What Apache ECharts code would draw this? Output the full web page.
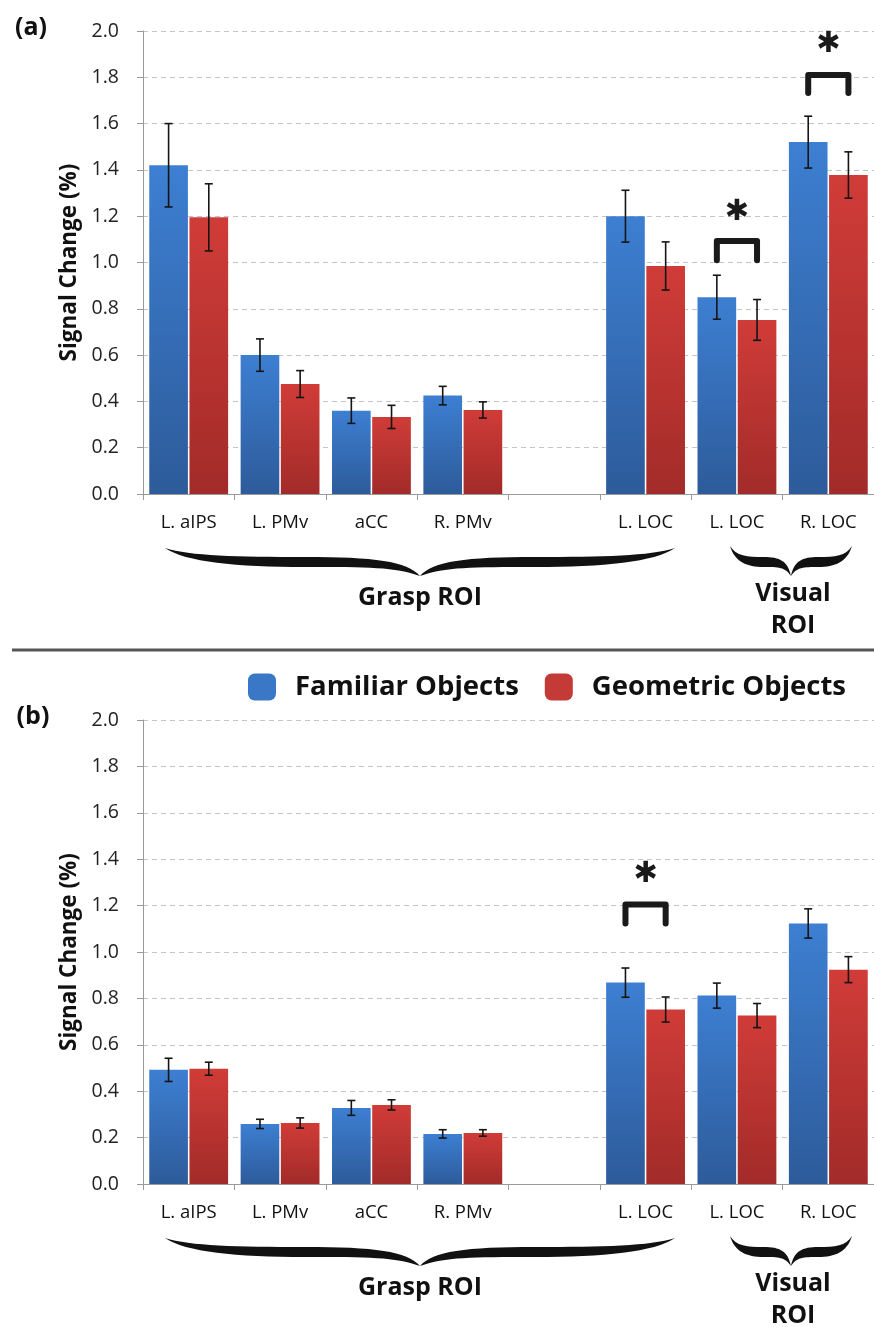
<!DOCTYPE html>
<html><head><meta charset="utf-8">
<script src="https://cdn.jsdelivr.net/npm/echarts@6/dist/echarts.min.js"></script>
<style>html,body{margin:0;padding:0;background:#fff}#c{width:874px;height:1327px}</style>
</head><body><div id="c"></div>
<script>
// ---------- data ----------
const categories = ['L. aIPS', 'L. PMv', 'aCC', 'R. PMv', '', 'L. LOC', 'L. LOC', 'R. LOC'];
const seriesNames = ['Familiar Objects', 'Geometric Objects'];
const yMin = 0, yMax = 2.0, yStep = 0.2;

// panel (a)
const aFamiliar    = [1.42, 0.60, 0.36, 0.425, null, 1.20, 0.85, 1.52];
const aFamiliarErr = [0.18, 0.07, 0.055, 0.04, null, 0.112, 0.095, 0.112];
const aGeometric    = [1.195, 0.475, 0.333, 0.363, null, 0.985, 0.752, 1.378];
const aGeometricErr = [0.145, 0.058, 0.05, 0.035, null, 0.104, 0.088, 0.10];
// significance brackets (a): category, leg bottom, bar top, asterisk level
const aSigCat  = [6, 7];
const aSigBase = [1.01, 1.732];
const aSigTop  = [1.093, 1.81];
const aSigStar = [1.218, 1.94];

// panel (b)
const bFamiliar    = [0.492, 0.259, 0.328, 0.216, null, 0.868, 0.812, 1.123];
const bFamiliarErr = [0.05, 0.02, 0.032, 0.018, null, 0.063, 0.054, 0.063];
const bGeometric    = [0.497, 0.263, 0.341, 0.22, null, 0.752, 0.726, 0.924];
const bGeometricErr = [0.028, 0.022, 0.022, 0.014, null, 0.054, 0.052, 0.056];
const bSigCat  = [5];
const bSigBase = [1.123];
const bSigTop  = [1.205];
const bSigStar = [1.335];

// ---------- styling / layout ----------
const CAT_GAP = 0.137, BAR_GAP = 0.04;
const FONT = '"Open Sans", "Noto Sans", sans-serif';
const blueGrad = {type: 'linear', x: 0, y: 0, x2: 0, y2: 1, colorStops: [
  {offset: 0, color: '#3d7fd2'}, {offset: 1, color: '#2d5b9a'}]};
const redGrad = {type: 'linear', x: 0, y: 0, x2: 0, y2: 1, colorStops: [
  {offset: 0, color: '#d03c38'}, {offset: 1, color: '#a22b29'}]};

function barOffsets(band) {
  const used = band * (1 - CAT_GAP);
  const w = used / (2 + BAR_GAP);
  const g = w * BAR_GAP;
  return [-(g / 2 + w / 2), g / 2 + w / 2];
}

function errData(vals, errs) {
  const out = [];
  vals.forEach((v, i) => { if (v != null) out.push([i, v, errs[i]]); });
  return out;
}
function barData(vals) { return vals.map(v => v == null ? '-' : v); }

function errSeries(vals, errs, which, axis) {
  return {
    type: 'custom', xAxisIndex: axis, yAxisIndex: axis, z: 5, silent: true,
    data: errData(vals, errs),
    renderItem: function (params, api) {
      const i = api.value(0), v = api.value(1), e = api.value(2);
      const band = api.size([1, 0])[0];
      const off = barOffsets(band)[which];
      const top = api.coord([i, v + e]);
      const bot = api.coord([i, v - e]);
      const x = top[0] + off;
      const st = {stroke: '#151515', lineWidth: 1.6};
      const cw = 4;
      return {type: 'group', children: [
        {type: 'line', shape: {x1: x, y1: top[1], x2: x, y2: bot[1]}, style: st},
        {type: 'line', shape: {x1: x - cw, y1: top[1], x2: x + cw, y2: top[1]}, style: st},
        {type: 'line', shape: {x1: x - cw, y1: bot[1], x2: x + cw, y2: bot[1]}, style: st}
      ]};
    }
  };
}

function sigSeries(cats, base, top, star, axis) {
  return {
    type: 'custom', xAxisIndex: axis, yAxisIndex: axis, z: 6, silent: true,
    data: cats.map((c, k) => [c, base[k], top[k], star[k]]),
    renderItem: function (params, api) {
      const i = api.value(0);
      const band = api.size([1, 0])[0];
      const offs = barOffsets(band);
      const pb = api.coord([i, api.value(1)]);
      const pt = api.coord([i, api.value(2)]);
      const ps = api.coord([i, api.value(3)]);
      const xl = pt[0] + offs[0], xr = pt[0] + offs[1];
      return {type: 'group', children: [
        {type: 'polyline', shape: {points: [[xl, pb[1]], [xl, pt[1]], [xr, pt[1]], [xr, pb[1]]]},
         style: {stroke: '#1a1a1a', lineWidth: 6, fill: null, lineJoin: 'round', lineCap: 'round'}},
        {type: 'text', style: {text: '✱', x: (xl + xr) / 2, y: ps[1], align: 'center', verticalAlign: 'middle',
          fontSize: 29, fontFamily: '"DejaVu Sans"', fill: '#1a1a1a'}}
      ]};
    }
  };
}

function barSeries(name, vals, grad, axis) {
  return {
    name: name, type: 'bar', xAxisIndex: axis, yAxisIndex: axis,
    data: barData(vals), barCategoryGap: (CAT_GAP * 100) + '%', barGap: (BAR_GAP * 100) + '%',
    itemStyle: {color: grad}, silent: true
  };
}

function makeX(gridIndex) {
  return {
    type: 'category', gridIndex: gridIndex, data: categories,
    axisLine: {lineStyle: {color: '#9a9a9a', width: 1}},
    axisTick: {show: true, length: 6, lineStyle: {color: '#9a9a9a'}},
    axisLabel: {color: '#111', fontSize: 18.5, fontFamily: FONT, margin: 19, interval: 0},
    splitLine: {show: false}
  };
}
function makeY(gridIndex) {
  return {
    type: 'value', gridIndex: gridIndex, min: yMin, max: yMax, interval: yStep,
    name: 'Signal Change (%)', nameLocation: 'middle', nameRotate: 90, nameGap: 60,
    nameTextStyle: {color: '#111', fontSize: 22.5, fontWeight: 'bold', fontFamily: FONT},
    axisLine: {show: true, lineStyle: {color: '#9a9a9a', width: 1}},
    axisTick: {show: true, length: 6, lineStyle: {color: '#9a9a9a'}},
    axisLabel: {color: '#222', fontSize: 19.5, fontFamily: FONT, margin: 24, formatter: v => v.toFixed(1)},
    splitLine: {show: true, lineStyle: {color: '#c4c4c4', type: [5, 4], width: 1}}
  };
}

function bracePath(x1, x2, y0, d, yb, t) {
  const xc = (x1 + x2) / 2, W = xc - x1;
  const ybt = y0 + yb, ybb = ybt + t, yp = y0 + d;
  const L = `M${x1},${y0} C${x1 + 0.1 * W},${ybt - 1} ${x1 + 0.28 * W},${ybt} ${x1 + 0.55 * W},${ybt} ` +
    `C${x1 + 0.82 * W},${ybt} ${xc - 0.05 * W},${ybt + 0.4 * t} ${xc},${yp} ` +
    `C${xc - 0.1 * W},${ybb} ${x1 + 0.8 * W},${ybb} ${x1 + 0.55 * W},${ybb} ` +
    `C${x1 + 0.28 * W},${ybb} ${x1 + 0.08 * W},${ybb - 0.5 * t} ${x1},${y0} Z`;
  const R = `M${x2},${y0} C${x2 - 0.1 * W},${ybt - 1} ${x2 - 0.28 * W},${ybt} ${x2 - 0.55 * W},${ybt} ` +
    `C${x2 - 0.82 * W},${ybt} ${xc + 0.05 * W},${ybt + 0.4 * t} ${xc},${yp} ` +
    `C${xc + 0.1 * W},${ybb} ${x2 - 0.8 * W},${ybb} ${x2 - 0.55 * W},${ybb} ` +
    `C${x2 - 0.28 * W},${ybb} ${x2 - 0.08 * W},${ybb - 0.5 * t} ${x2},${y0} Z`;
  return L + ' ' + R;
}

// braces drawn through a custom series without coordinate system
const braceSeries = {
  type: 'custom', coordinateSystem: 'none', silent: true, z: 4,
  data: [0],
  renderItem: function () {
    const children = [];
    [0, 690].forEach(dy => {
      children.push({type: 'path', shape: {pathData: bracePath(165, 675, 548 + dy, 28, 9, 10)}, style: {fill: '#111'}});
      children.push({type: 'path', shape: {pathData: bracePath(730, 852, 546 + dy, 30, 11, 10)}, style: {fill: '#111'}});
    });
    return {type: 'group', children: children};
  }
};

function panelTexts(dy) {
  const ts = (txt, x, y, size) => ({type: 'text', x: x, y: y,
    style: {text: txt, align: 'center', verticalAlign: 'middle', fontSize: size, fontWeight: 'bold',
      fontFamily: FONT, fill: '#111'}});
  return [
    ts('Grasp ROI', 420, 598 + dy, 25),
    ts('Visual', 793, 594 + dy, 25),
    ts('ROI', 793, 626 + dy, 25)
  ];
}

const chart = echarts.init(document.getElementById('c'), null, {renderer: 'canvas'});
chart.setOption({
  animation: false,
  backgroundColor: '#fff',
  grid: [
    {left: 143, right: 0, top: 31, height: 463},
    {left: 143, right: 0, top: 720, height: 464}
  ],
  xAxis: [makeX(0), makeX(1)],
  yAxis: [makeY(0), makeY(1)],
  legend: {
    left: 248, top: 673, padding: 0, itemWidth: 28, itemHeight: 27, itemGap: 26, icon: 'roundRect',
    selectedMode: false,
    data: [{name: seriesNames[0], itemStyle: {color: '#3a77c6'}}, {name: seriesNames[1], itemStyle: {color: '#c43a36'}}],
    textStyle: {color: '#111', fontSize: 27.5, fontWeight: 'bold', fontFamily: FONT, padding: [0, 0, 0, 14]}
  },
  graphic: [
    {type: 'text', x: 31, y: 28, style: {text: '(a)', align: 'center', verticalAlign: 'middle', fontSize: 25,
      fontWeight: 'bold', fontFamily: FONT, fill: '#111'}},
    {type: 'text', x: 33, y: 717, style: {text: '(b)', align: 'center', verticalAlign: 'middle', fontSize: 25,
      fontWeight: 'bold', fontFamily: FONT, fill: '#111'}},
    {type: 'line', shape: {x1: 12, y1: 650, x2: 874, y2: 650}, style: {stroke: '#555', lineWidth: 3}},
    ...panelTexts(0),
    ...panelTexts(690)
  ],
  series: [
    barSeries(seriesNames[0], aFamiliar, blueGrad, 0),
    barSeries(seriesNames[1], aGeometric, redGrad, 0),
    errSeries(aFamiliar, aFamiliarErr, 0, 0),
    errSeries(aGeometric, aGeometricErr, 1, 0),
    sigSeries(aSigCat, aSigBase, aSigTop, aSigStar, 0),
    barSeries(seriesNames[0], bFamiliar, blueGrad, 1),
    barSeries(seriesNames[1], bGeometric, redGrad, 1),
    errSeries(bFamiliar, bFamiliarErr, 0, 1),
    errSeries(bGeometric, bGeometricErr, 1, 1),
    sigSeries(bSigCat, bSigBase, bSigTop, bSigStar, 1),
    braceSeries
  ]
});
</script></body></html>
